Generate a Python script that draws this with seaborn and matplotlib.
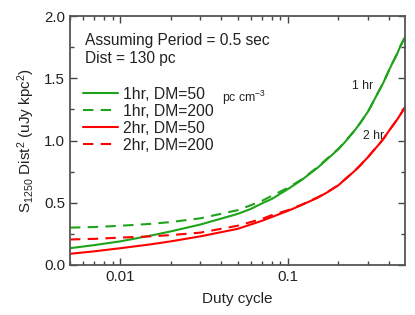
import numpy as np
import pandas as pd
import matplotlib
matplotlib.use("Agg")
import matplotlib.pyplot as plt
from matplotlib.ticker import MultipleLocator, FixedLocator, NullFormatter
import seaborn as sns

# duty cycle grid
duty = [0.005, 0.007, 0.01, 0.015, 0.02, 0.03, 0.05, 0.06, 0.07, 0.08, 0.1,
        0.12, 0.15, 0.17, 0.2, 0.22, 0.25, 0.27, 0.3, 0.32, 0.35, 0.37,
        0.4, 0.42, 0.45, 0.47, 0.5]

hr1_dm50 = [0.135, 0.16, 0.19, 0.235, 0.27, 0.325, 0.41, 0.45, 0.495, 0.53,
            0.61, 0.68, 0.78, 0.845, 0.93, 0.99, 1.08, 1.14, 1.23, 1.30,
            1.40, 1.46, 1.56, 1.62, 1.70, 1.76, 1.83]
hr1_dm200 = [0.30, 0.305, 0.315, 0.33, 0.345, 0.375, 0.44, 0.48, 0.515,
             0.555, 0.62, 0.685, 0.785, 0.85, 0.933, 0.993, 1.08, 1.14,
             1.23, 1.30, 1.40, 1.46, 1.56, 1.62, 1.70, 1.76, 1.83]
hr2_dm50 = [0.09, 0.11, 0.135, 0.165, 0.19, 0.23, 0.29, 0.325, 0.355, 0.385,
            0.435, 0.48, 0.54, 0.58, 0.64, 0.69, 0.755, 0.80, 0.865, 0.91,
            0.97, 1.01, 1.075, 1.115, 1.17, 1.21, 1.267]
hr2_dm200 = [0.205, 0.21, 0.22, 0.23, 0.24, 0.26, 0.315, 0.345, 0.37, 0.40,
             0.44, 0.483, 0.542, 0.582, 0.641, 0.69, 0.755, 0.80, 0.865,
             0.91, 0.97, 1.01, 1.075, 1.115, 1.17, 1.21, 1.267]

labels = ["1hr, DM=50", "1hr, DM=200", "2hr, DM=50", "2hr, DM=200"]
series = [hr1_dm50, hr1_dm200, hr2_dm50, hr2_dm200]

GREEN = "#1fa31a"
RED = "#ff0000"
colors = [GREEN, GREEN, RED, RED]
dashed = [False, True, False, True]

sns.set_style("ticks")
plt.rcParams["font.family"] = ["Liberation Sans", "DejaVu Sans"]
plt.rcParams["mathtext.fontset"] = "custom"
plt.rcParams["mathtext.rm"] = "Liberation Sans"
plt.rcParams["mathtext.it"] = "Liberation Sans"

fig = plt.figure(figsize=(4.15, 3.15), dpi=100)
ax = fig.add_axes([70 / 415, 50 / 315, 335 / 415, 249 / 315])

for lab, vals, col, dsh in zip(labels, series, colors, dashed):
    df = pd.DataFrame({"duty": duty, "S": vals})
    sns.lineplot(data=df, x="duty", y="S", ax=ax, color=col,
                 linewidth=1.5, label=lab)
    if dsh:
        ax.lines[-1].set_dashes([5, 3.5])

ax.set_xscale("log")
ax.set_xlim(0.005, 0.5)
ax.set_ylim(0, 2.0)

ax.xaxis.set_major_locator(FixedLocator([0.01, 0.1]))
ax.xaxis.set_major_formatter(matplotlib.ticker.FixedFormatter(["0.01", "0.1"]))
ax.xaxis.set_minor_locator(FixedLocator(
    [0.005, 0.006, 0.007, 0.008, 0.009, 0.02, 0.03, 0.04, 0.05, 0.06, 0.07,
     0.08, 0.09, 0.2, 0.3, 0.4]))
ax.xaxis.set_minor_formatter(NullFormatter())
ax.yaxis.set_major_locator(MultipleLocator(0.5))
ax.yaxis.set_minor_locator(MultipleLocator(0.25))
ax.yaxis.set_major_formatter(matplotlib.ticker.FormatStrFormatter("%.1f"))

ax.tick_params(which="both", direction="in", top=True, right=True,
               color="#444444", labelsize=10.8, labelcolor="#222222")
ax.tick_params(which="major", length=5, width=1)
ax.tick_params(which="minor", length=3, width=1)
for sp in ax.spines.values():
    sp.set_color("#555555")
    sp.set_linewidth(1.3)

ax.set_xlabel("Duty cycle", fontsize=11, color="#222222", labelpad=6)
ax.set_ylabel("S$_{1250}$ Dist$^2$ (uJy kpc$^2$)", fontsize=11,
              color="#222222", labelpad=5)

leg = ax.legend(loc="upper left", bbox_to_anchor=(0.04, 0.715), frameon=False,
                fontsize=11.3, handlelength=2.2, handletextpad=0.3,
                labelspacing=0.12, borderpad=0, borderaxespad=0)
for t in leg.get_texts():
    t.set_color("#222222")

ax.text(0.045, 0.93, "Assuming Period = 0.5 sec\nDist = 130 pc",
        transform=ax.transAxes, ha="left", va="top", fontsize=11.2,
        color="#222222", linespacing=1.2)
ax.text(0.455, 0.672, "pc cm$^{-3}$", transform=ax.transAxes, ha="left",
        va="center", fontsize=8.8, color="#222222")
ax.text(0.24, 1.44, "1 hr", ha="left", va="center", fontsize=8.8,
        color="#222222")
ax.text(0.279, 1.04, "2 hr", ha="left", va="center", fontsize=8.8,
        color="#222222")

fig.savefig("out.png", dpi=100)
